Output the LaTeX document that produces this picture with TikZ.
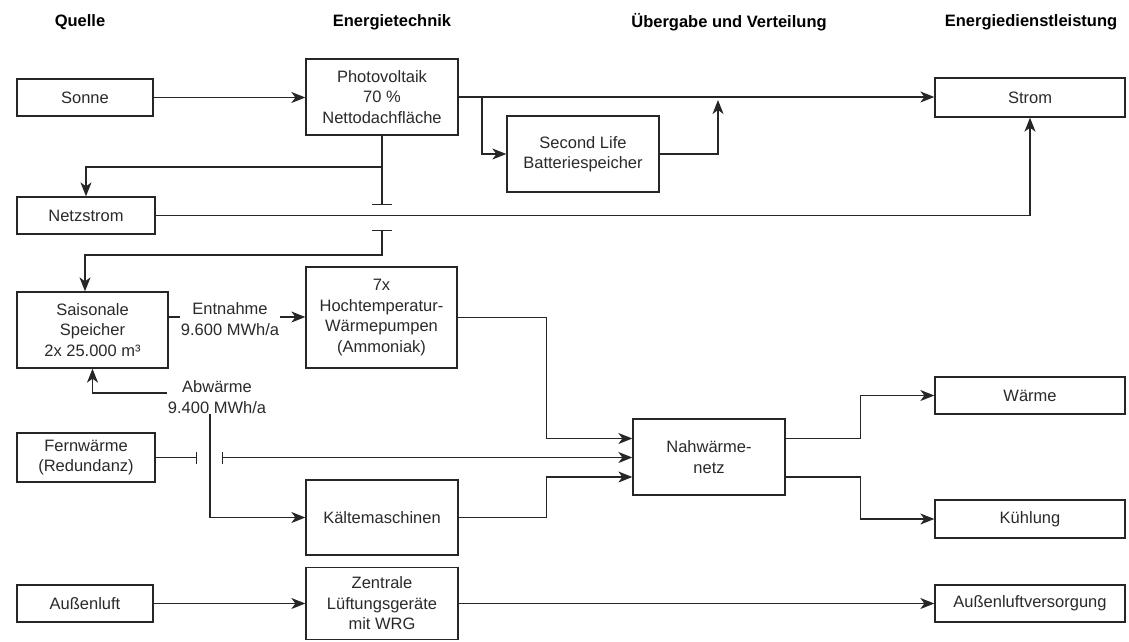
\documentclass[tikz,border=0pt]{standalone}
\usepackage{fontspec}
\setmainfont{Liberation Sans}
\usetikzlibrary{arrows.meta}
\definecolor{ln}{HTML}{262626}
\definecolor{tx}{HTML}{2A2A2A}
\tikzset{
  box/.style={draw=ln, line width=1.3pt, fill=white, inner sep=0pt, align=center,
    text=tx, font=\fontsize{16.5}{20.5}\selectfont},
  head/.style={font=\bfseries\fontsize{16.5}{20}\selectfont, text=black, inner sep=0pt},
  lbl/.style={fill=white, inner sep=1pt, align=center, text=tx, font=\fontsize{16.5}{20.5}\selectfont},
  conn/.style={draw=ln, line width=1.3pt},
  tip/.tip={Stealth[length=14pt,width=11pt,inset=4pt]},
  arr/.style={conn, -tip},
  arrboth/.style={conn, tip-tip},
  barend/.style={conn, -{Bar[width=#1,line width=1.3pt]}},
  barstart/.style={conn, {Bar[width=#1,line width=1.3pt]}-tip},
}
\begin{document}
\begin{tikzpicture}[x=1pt,y=-1pt]
\useasboundingbox (0,0) rectangle (1129,641);
% headings
\node[head] (h1) at (80,22) {Quelle};
\node[head] (h2) at (392,22) {Energietechnik};
\node[head] (h3) at (729,22) {Übergabe und Verteilung};
\node[head] (h4) at (1031,22) {Energiedienstleistung};
% boxes
\node[box, minimum width=136pt, minimum height=37pt] (sonne) at (85,97.5) {Sonne};
\node[box, minimum width=152pt, minimum height=76pt] (pv) at (382,97) {Photovoltaik\\70 \%\\Nettodachfläche};
\node[box, minimum width=190pt, minimum height=39pt] (strom) at (1030,97.5) {Strom};
\node[box, minimum width=152pt, minimum height=76pt] (sl) at (583,154) {Second Life\\Batteriespeicher};
\node[box, minimum width=138pt, minimum height=37pt] (netz) at (86,215.5) {Netzstrom};
\node[box, minimum width=151pt, minimum height=76pt] (speicher) at (92.5,330) {Saisonale\\Speicher\\2x 25.000 m³};
\node[box, minimum width=151pt, minimum height=101pt] (wp) at (381.5,317.5) {7x\\Hochtemperatur-\\Wärmepumpen\\(Ammoniak)};
\node[box, minimum width=138pt, minimum height=49pt] (fern) at (86,457.5) {Fernwärme\\(Redundanz)};
\node[box, minimum width=152pt, minimum height=75pt] (kaelte) at (382,517.5) {Kältemaschinen};
\node[box, minimum width=152pt, minimum height=76pt] (nah) at (709,457) {Nahwärme-\\netz};
\node[box, minimum width=190pt, minimum height=37pt] (waerme) at (1030,395.5) {Wärme};
\node[box, minimum width=190pt, minimum height=38pt] (kuehl) at (1030,519) {Kühlung};
\node[box, minimum width=136pt, minimum height=37pt] (aussen) at (85,603.5) {Außenluft};
\node[box, minimum width=152pt, minimum height=72pt] (zentral) at (382,603.5) {Zentrale\\Lüftungsgeräte\\mit WRG};
\node[box, minimum width=190pt, minimum height=37pt] (versorg) at (1030,603.5) {Außenluftversorgung};
% helper coordinates
\coordinate (j1) at (482,97);
\coordinate (j2) at (718,100);
\coordinate (j3) at (382,167);
\coordinate (b1) at (382,205);
\coordinate (b2) at (382,230);
\coordinate (j4) at (85,255);
\coordinate (j5) at (210,393);
\coordinate (b3) at (197,457.5);
\coordinate (b4) at (222,457.5);
% connectors
\draw[arr] (sonne.east) -- (sonne.east -| pv.west);
\draw[arr] (pv.east) -- (pv.east -| strom.west);
\draw[arr] (j1) |- (sl.west);
\draw[arr] (sl.east) -| (j2);
\draw[arr] (pv.south) -- (j3) -| (netz.north);
\draw[barend=20pt] (j3) -- (b1);
\draw[arr] (netz.east) -| (strom.south);
\draw[barstart=20pt] (b2) |- (j4) -- (j4 |- speicher.north);
\draw[arr] ([yshift=13pt]speicher.east) -- ([yshift=13pt]speicher.east -| wp.west);
\node[lbl] (entn) at (230,319) {Entnahme\\9.600 MWh/a};
\draw[arrboth] (speicher.south) |- (j5) |- (kaelte.west);
\node[lbl] (abw) at (217,397) {Abwärme\\9.400 MWh/a};
\draw[barend=12pt] (fern.east) -- (b3);
\draw[barstart=12pt] (b4) -- (b4 -| nah.west);
\draw[arr] (wp.east) -- ++(88.5,0) |- ([yshift=18.5pt]nah.west);
\draw[arr] (kaelte.east) -- ++(88,0) |- ([yshift=-20pt]nah.west);
\draw[arr] ([yshift=18.5pt]nah.east) -- ++(75,0) |- (waerme.west);
\draw[arr] ([yshift=-20pt]nah.east) -- ++(75,0) |- (kuehl.west);
\draw[arr] (aussen.east) -- (zentral.west);
\draw[arr] (zentral.east) -- (versorg.west);
\end{tikzpicture}
\end{document}
